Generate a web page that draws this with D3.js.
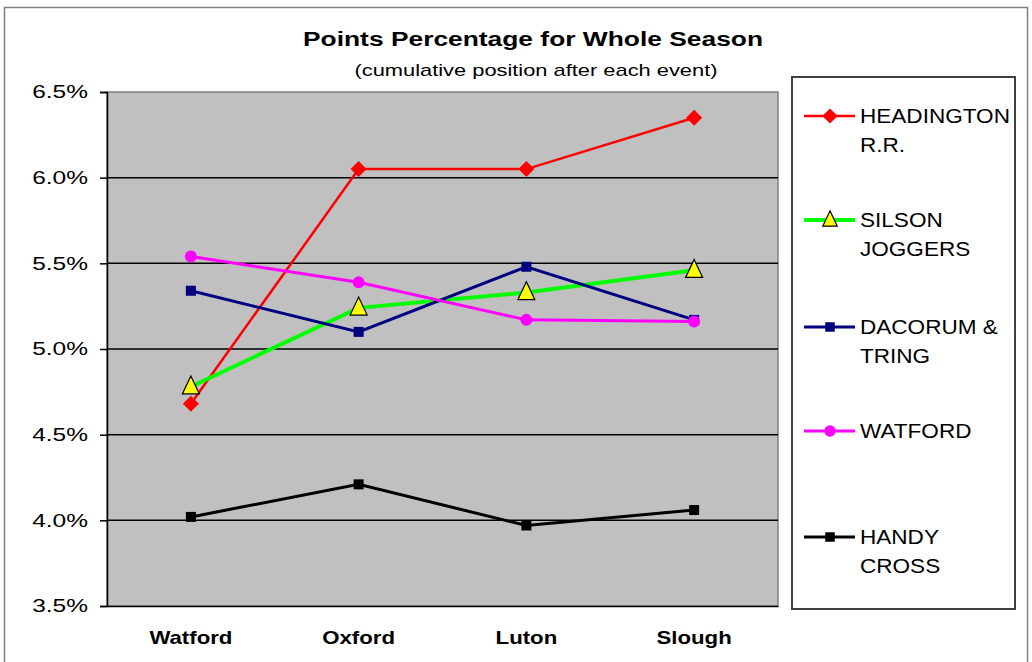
<!DOCTYPE html>
<html><head><meta charset="utf-8">
<script src="https://cdn.jsdelivr.net/npm/d3@7"></script>
<style>
html,body{margin:0;padding:0;background:#fff;}
svg{display:block;font-family:"Liberation Sans",Arial,sans-serif;}
</style></head>
<body>
<svg id="chart" width="1032" height="662"></svg>
<script>
const categories = ["Watford","Oxford","Luton","Slough"];
const seriesNames = [["HEADINGTON","R.R."],["SILSON","JOGGERS"],["DACORUM &","TRING"],["WATFORD"],["HANDY","CROSS"]];
const headington = [4.68, 6.05, 6.05, 6.35];
const silson     = [4.78, 5.24, 5.33, 5.46];
const dacorum    = [5.34, 5.10, 5.48, 5.17];
const watford    = [5.54, 5.39, 5.17, 5.16];
const handy      = [4.02, 4.21, 3.97, 4.06];
const yTicks = [3.5, 4.0, 4.5, 5.0, 5.5, 6.0, 6.5];

const styles = [
  {color:"#ff0000", width:2.5, marker:"diamond"},
  {color:"#00ff00", width:4, marker:"triangle"},
  {color:"#000080", width:3, marker:"square"},
  {color:"#ff00ff", width:3, marker:"circle"},
  {color:"#000000", width:3, marker:"square"}
];
const allValues = [headington, silson, dacorum, watford, handy];

function stretch(sel, factor){
  sel.each(function(){
    const w = this.getComputedTextLength();
    d3.select(this).attr("textLength", w*factor).attr("lengthAdjust","spacingAndGlyphs");
  });
}

const svg = d3.select("#chart");
const L = 107, R = 778, T = 92, B = 606;

// outer chart border
svg.append("rect").attr("x",4.5).attr("y",7.5).attr("width",1023).attr("height",700)
  .attr("fill","#fff").attr("stroke","#808080").attr("stroke-width",1.5);

const x = d3.scaleBand().domain(categories).range([L,R]);
const y = d3.scaleLinear().domain([3.5,6.5]).range([B,T]);

svg.append("rect").attr("x",L).attr("y",T).attr("width",R-L).attr("height",B-T)
  .attr("fill","#c0c0c0").attr("stroke","#808080").attr("stroke-width",1.5);

// gridlines
svg.append("g").selectAll("line").data(yTicks.filter(t=>t>3.5 && t<6.5)).join("line")
  .attr("x1",L).attr("x2",R).attr("y1",d=>y(d)).attr("y2",d=>y(d))
  .attr("stroke","#000").attr("stroke-width",1.5);

// y axis
const yAxis = d3.axisLeft(y).tickValues(yTicks).tickFormat(d=>d.toFixed(1)+"%").tickSize(7).tickPadding(12);
const gy = svg.append("g").attr("transform",`translate(${L},0)`).call(yAxis);
gy.select(".domain").attr("stroke","#000").attr("stroke-width",1.5);
gy.selectAll(".tick line").attr("stroke","#000").attr("stroke-width",1.5);
gy.selectAll("text").attr("font-size",18).attr("fill","#000")
  .attr("font-family","Liberation Sans, Arial, sans-serif");
stretch(gy.selectAll("text"), 1.36);

// x axis
const xAxis = d3.axisBottom(x).tickSize(0).tickPadding(25);
const gx = svg.append("g").attr("transform",`translate(0,${B})`).call(xAxis);
gx.select(".domain").attr("stroke","#000").attr("stroke-width",1.5);
gx.selectAll("text").attr("font-size",18.5).attr("font-weight","bold").attr("fill","#000")
  .attr("font-family","Liberation Sans, Arial, sans-serif");
stretch(gx.selectAll("text"), 1.2);

function drawMarker(g, type, cx, cy, color, scale){
  scale = scale||1;
  if(type==="diamond"){
    const s=8*scale;
    g.append("path").attr("d",`M${cx},${cy-s}L${cx+s},${cy}L${cx},${cy+s}L${cx-s},${cy}Z`).attr("fill",color);
  } else if(type==="triangle"){
    const w=8.5*scale, h=18*scale;
    g.append("path").attr("d",`M${cx},${cy-h*0.6}L${cx+w},${cy+h*0.4}L${cx-w},${cy+h*0.4}Z`)
      .attr("fill","#ffff00").attr("stroke","#000").attr("stroke-width",1.2);
  } else if(type==="square"){
    const s=5*scale;
    g.append("rect").attr("x",cx-s).attr("y",cy-s).attr("width",2*s).attr("height",2*s).attr("fill",color);
  } else {
    g.append("circle").attr("cx",cx).attr("cy",cy).attr("r",6*scale).attr("fill",color);
  }
}

const line = d3.line().x((d,i)=>x(categories[i])+x.bandwidth()/2).y(d=>y(d));
const plotG = svg.append("g");
allValues.forEach((vals,si)=>{
  const st = styles[si];
  plotG.append("path").datum(vals).attr("d",line).attr("fill","none")
    .attr("stroke",st.color).attr("stroke-width",st.width).attr("stroke-linejoin","miter");
});
allValues.forEach((vals,si)=>{
  const st = styles[si];
  vals.forEach((v,i)=>drawMarker(plotG, st.marker, x(categories[i])+x.bandwidth()/2, y(v), st.color));
});

// title
svg.append("text").attr("x",533).attr("y",46).attr("text-anchor","middle")
  .attr("font-size",20).attr("font-weight","bold").attr("fill","#000")
  .attr("textLength",460).attr("lengthAdjust","spacingAndGlyphs")
  .text("Points Percentage for Whole Season");
svg.append("text").attr("x",536).attr("y",76).attr("text-anchor","middle")
  .attr("font-size",17).attr("fill","#000")
  .attr("textLength",363).attr("lengthAdjust","spacingAndGlyphs")
  .text("(cumulative position after each event)");

// legend
svg.append("rect").attr("x",792).attr("y",77).attr("width",223).attr("height",532)
  .attr("fill","#fff").attr("stroke","#404040").attr("stroke-width",2);
const legendY = [116, 220, 327, 431, 537];
const lg = svg.append("g");
seriesNames.forEach((nm,si)=>{
  const st = styles[si];
  const ly = legendY[si];
  lg.append("line").attr("x1",804).attr("x2",855).attr("y1",ly).attr("y2",ly)
    .attr("stroke",st.color).attr("stroke-width",st.width);
  drawMarker(lg, st.marker, 830, ly, st.color, st.marker==="triangle"?0.85:0.95);
  nm.forEach((t,j)=>{
    lg.append("text").attr("class","lgtext").attr("x",860).attr("y",ly+7+j*29).attr("font-size",20.5)
      .attr("fill","#000").text(t);
  });
});
stretch(lg.selectAll(".lgtext"), 1.1);
</script>
</body></html>
